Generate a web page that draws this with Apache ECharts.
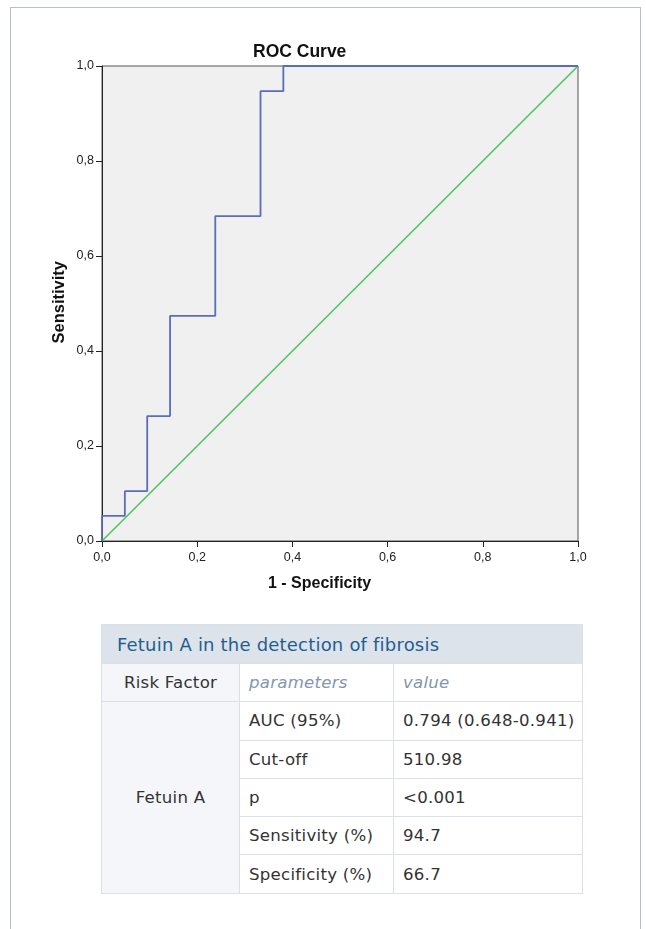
<!DOCTYPE html>
<html>
<head>
<meta charset="utf-8">
<script src="https://cdn.jsdelivr.net/npm/echarts@6/dist/echarts.min.js"></script>
<style>
  html, body { margin: 0; padding: 0; background: #ffffff; }
  body { width: 646px; height: 929px; position: relative; overflow: hidden; }
  #frame { position: absolute; left: 10px; top: 7px; width: 631px; height: 940px;
           border: 1px solid #b6c1cc; border-bottom: none; box-sizing: border-box; }
  #chart { position: absolute; left: 0; top: 0; width: 646px; height: 610px; }
  #tbl { position: absolute; left: 101px; top: 624px; width: 481px; border-collapse: collapse; table-layout: fixed;
         font-family: "DejaVu Sans", Verdana, sans-serif; font-size: 16.6px; letter-spacing: 0.25px; color: #333; }
  #tbl td { border: 1px solid #dbe1e8; padding: 0 9px; box-sizing: border-box; white-space: nowrap; overflow: visible; }
  #tbl td.cap { background: #dde3ea; color: #1f5f8f; font-size: 18px; letter-spacing: 0.2px; padding-left: 15px; height: 39px; }
  #tbl td.rf { background: #f4f6f9; text-align: center; }
  #tbl td.it { font-style: italic; color: #8496ad; }
  #tbl tr.r td { height: 38.3px; }
</style>
</head>
<body>
<div id="frame"></div>
<div id="chart"></div>
<table id="tbl"></table>
<script>
// ---- data ----
const rocX = [0, 0, 0.048, 0.048, 0.095, 0.095, 0.143, 0.143, 0.238, 0.238, 0.333, 0.333, 0.381, 0.381, 1.0];
const rocY = [0, 0.053, 0.053, 0.105, 0.105, 0.263, 0.263, 0.474, 0.474, 0.684, 0.684, 0.947, 0.947, 1.0, 1.0];
const refX = [0, 1];
const refY = [0, 1];
const tickLabels = ['0,0', '0,2', '0,4', '0,6', '0,8', '1,0'];
const chartTitle = 'ROC Curve';
const xName = '1 - Specificity';
const yName = 'Sensitivity';

const tableTitle = 'Fetuin A in the detection of fibrosis';
const headerCols = ['Risk Factor', 'parameters', 'value'];
const riskFactor = 'Fetuin A';
const paramNames = ['AUC (95%)', 'Cut-off', 'p', 'Sensitivity (%)', 'Specificity (%)'];
const paramValues = ['0.794 (0.648-0.941)', '510.98', '<0.001', '94.7', '66.7'];

// ---- chart ----
const chart = echarts.init(document.getElementById('chart'), null, { renderer: 'canvas' });
const fmt = v => tickLabels[Math.round(v / 0.2)];
const lab = { formatter: fmt, color: '#222', fontSize: 12.5, fontFamily: '"Liberation Sans", Arial, sans-serif' };
const axisBase = {
  type: 'value', min: 0, max: 1, interval: 0.2,
  axisLine: { show: true, onZero: false, lineStyle: { color: '#222', width: 1 } },
  axisTick: { show: true, length: 6, lineStyle: { color: '#222' } },
  splitLine: { show: false }
};
const FONT = '"Liberation Sans", Arial, sans-serif';
chart.setOption({
  animation: false,
  grid: { left: 102, top: 66, width: 476, height: 475, show: true,
          backgroundColor: '#f0f0f0', borderColor: '#555', borderWidth: 1 },
  xAxis: Object.assign({}, axisBase, { axisLabel: Object.assign({}, lab, { margin: 10 }) }),
  yAxis: Object.assign({}, axisBase, { axisLabel: Object.assign({}, lab, { margin: 8 }) }),
  graphic: [
    { type: 'text', left: 253, top: 43, style: { text: chartTitle, fill: '#111',
      font: 'bold 17.5px ' + FONT } },
    { type: 'text', left: 268, top: 576, style: { text: xName, fill: '#111',
      font: 'bold 16px ' + FONT } },
    { type: 'text', left: 51, top: 261, rotation: Math.PI / 2,
      style: { text: yName, fill: '#111', font: 'bold 16.5px ' + FONT } }
  ],
  series: [
    { type: 'line', data: refX.map((x, i) => [x, refY[i]]), symbol: 'none',
      lineStyle: { color: '#4fc45f', width: 1.6 }, z: 2 },
    { type: 'line', data: rocX.map((x, i) => [x, rocY[i]]), symbol: 'none',
      lineStyle: { color: '#5a6dbb', width: 1.8 }, z: 3 }
  ]
});

// ---- table ----
const tbl = document.getElementById('tbl');
let html = '<colgroup><col style="width:138px"><col style="width:154px"><col style="width:189px"></colgroup>';
html += '<tr><td class="cap" colspan="3">' + tableTitle + '</td></tr>';
html += '<tr class="r"><td class="rf">' + headerCols[0] + '</td><td class="it">' + headerCols[1] +
        '</td><td class="it">' + headerCols[2] + '</td></tr>';
paramNames.forEach((p, i) => {
  html += '<tr class="r">';
  if (i === 0) html += '<td class="rf" rowspan="' + paramNames.length + '">' + riskFactor + '</td>';
  html += '<td>' + p.replace('<', '&lt;') + '</td><td>' + paramValues[i].replace('<', '&lt;') + '</td></tr>';
});
tbl.innerHTML = html;
</script>
</body>
</html>
